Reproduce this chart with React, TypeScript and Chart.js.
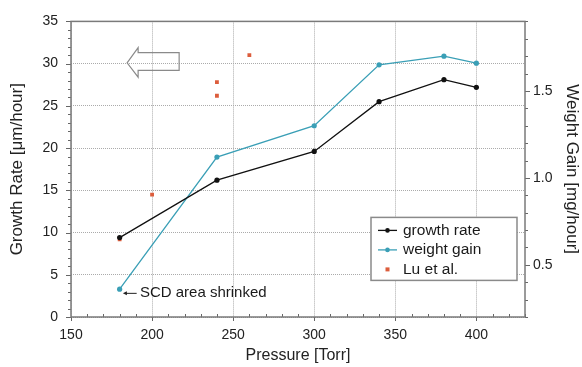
import React, { useEffect, useRef } from 'react';
import { Chart, registerables } from 'chart.js';

Chart.register(...registerables);

// ---- data ----
const growthPressure = [180, 240, 300, 340, 380, 400];
const growthRate = [9.4, 16.2, 19.6, 25.5, 28.1, 27.2];
const weightPressure = [180, 240, 300, 340, 380, 400];
const weightGain = [0.36, 1.12, 1.3, 1.65, 1.7, 1.66];
const luPressure = [180, 200, 240, 240, 260];
const luRate = [9.2, 14.5, 27.8, 26.2, 31.0];

const xTicks = [150, 200, 250, 300, 350, 400];
const yLeftTicks = [0, 5, 10, 15, 20, 25, 30, 35];
const yRightTicks = [0.5, 1.0, 1.5];

const xRange = [150, 430];
const yLeftRange = [0, 35];
const yRightRange = [0.2, 1.9];

const seriesLabels = ['growth rate', 'weight gain', 'Lu et al.'];
const noteText = 'SCD area shrinked';
// hollow arrow outline in data units (pressure, growth rate)
const arrowOutline = [
  [184.6, 30.1], [191.4, 31.9], [191.4, 31.3], [216.7, 31.3],
  [216.7, 29.2], [191.4, 29.2], [191.4, 28.4],
];
// note pointer: from (tail) to (head), and text anchor
const notePointer = [[190.5, 2.8], [182, 2.8]];
const noteAnchor = [192.5, 2.8];

const FONT = "'Liberation Sans', Arial, Helvetica, sans-serif";
const BLACK = '#111111';
const TEAL = '#3a9fb6';
const RED = '#dc5d3c';

const decor = {
  id: 'decor',
  beforeDatasetsDraw(chart: any) {
    const { ctx, chartArea: ca, scales } = chart;
    const x = scales.x, y = scales.y, y2 = scales.y2;
    ctx.save();
    ctx.strokeStyle = '#666';
    ctx.lineWidth = 1;
    // x ticks
    for (let v = xRange[0]; v <= xRange[1]; v += 10) {
      const px = Math.round(x.getPixelForValue(v)) + 0.5;
      const major = v % 50 === 0;
      ctx.beginPath();
      ctx.moveTo(px, ca.bottom);
      ctx.lineTo(px, major ? ca.bottom + 4 : ca.bottom - 3);
      ctx.stroke();
    }
    // left y ticks
    for (let v = yLeftRange[0]; v <= yLeftRange[1]; v += 1) {
      const py = Math.round(y.getPixelForValue(v)) + 0.5;
      const major = v % 5 === 0;
      ctx.beginPath();
      ctx.moveTo(ca.left, py);
      ctx.lineTo(ca.left - (major ? 5 : 3), py);
      ctx.stroke();
    }
    // right y ticks
    for (let i = 2; i <= 19; i++) {
      const v = i / 10;
      const py = Math.round(y2.getPixelForValue(v)) + 0.5;
      const major = i % 5 === 0;
      ctx.beginPath();
      ctx.moveTo(ca.right, py);
      ctx.lineTo(ca.right + (major ? 5 : 3), py);
      ctx.stroke();
    }
    // frame
    ctx.strokeStyle = '#7a7a7a';
    ctx.lineWidth = 1.5;
    ctx.strokeRect(ca.left, ca.top, ca.right - ca.left, ca.bottom - ca.top);
    // hollow arrow
    ctx.strokeStyle = '#8a8a8a';
    ctx.lineWidth = 1.2;
    ctx.beginPath();
    arrowOutline.forEach(([vx, vy], i) => {
      const px = x.getPixelForValue(vx), py = y.getPixelForValue(vy);
      if (i === 0) ctx.moveTo(px, py); else ctx.lineTo(px, py);
    });
    ctx.closePath();
    ctx.stroke();
    ctx.restore();
  },
  afterDraw(chart: any) {
    const { ctx, chartArea: ca, scales, data } = chart;
    const x = scales.x, y = scales.y;
    ctx.save();
    // note pointer
    const tx = x.getPixelForValue(notePointer[0][0]);
    const ty = y.getPixelForValue(notePointer[0][1]);
    const hx = x.getPixelForValue(notePointer[1][0]);
    const hy = y.getPixelForValue(notePointer[1][1]);
    ctx.strokeStyle = '#222';
    ctx.fillStyle = '#222';
    ctx.lineWidth = 1;
    ctx.beginPath();
    ctx.moveTo(tx, ty);
    ctx.lineTo(hx + 2, hy);
    ctx.stroke();
    ctx.beginPath();
    ctx.moveTo(hx, hy);
    ctx.lineTo(hx + 4, hy - 2);
    ctx.lineTo(hx + 4, hy + 2);
    ctx.closePath();
    ctx.fill();
    ctx.font = `15px ${FONT}`;
    ctx.textBaseline = 'middle';
    ctx.textAlign = 'left';
    ctx.fillStyle = '#1a1a1a';
    ctx.fillText(noteText, x.getPixelForValue(noteAnchor[0]), y.getPixelForValue(noteAnchor[1]));

    // legend box
    const bx = ca.right - 154, by = ca.top + 196, bw = 146, bh = 63;
    ctx.fillStyle = '#ffffff';
    ctx.fillRect(bx, by, bw, bh);
    ctx.strokeStyle = '#8a8a8a';
    ctx.lineWidth = 1.5;
    ctx.strokeRect(bx, by, bw, bh);
    ctx.font = `15.5px ${FONT}`;
    data.datasets.forEach((ds: any, i: number) => {
      const ry = by + 13 + i * 19.5;
      const lx0 = bx + 7, lx1 = bx + 26, mx = (lx0 + lx1) / 2;
      if (ds.showLine !== false) {
        ctx.strokeStyle = ds.borderColor;
        ctx.lineWidth = 1.3;
        ctx.beginPath();
        ctx.moveTo(lx0, ry);
        ctx.lineTo(lx1, ry);
        ctx.stroke();
      }
      ctx.fillStyle = ds.pointBackgroundColor;
      if (ds.pointStyle === 'rect') ctx.fillRect(mx - 2, ry - 2, 4, 4);
      else { ctx.beginPath(); ctx.arc(mx, ry, 2.3, 0, Math.PI * 2); ctx.fill(); }
      ctx.fillStyle = '#1a1a1a';
      ctx.textAlign = 'left';
      ctx.textBaseline = 'middle';
      ctx.fillText(ds.label, bx + 32, ry);
    });
    ctx.restore();
  },
};

export default function App() {
  const ref = useRef<HTMLCanvasElement | null>(null);
  useEffect(() => {
    document.body.style.margin = '0';
    const canvas = ref.current!;
    const chart = new Chart(canvas, {
      type: 'scatter',
      data: {
        datasets: [
          {
            label: seriesLabels[0],
            data: growthPressure.map((p, i) => ({ x: p, y: growthRate[i] })),
            showLine: true,
            borderColor: BLACK,
            backgroundColor: BLACK,
            pointBackgroundColor: BLACK,
            pointBorderWidth: 0,
            pointRadius: 2.6,
            borderWidth: 1.3,
            yAxisID: 'y',
          },
          {
            label: seriesLabels[1],
            data: weightPressure.map((p, i) => ({ x: p, y: weightGain[i] })),
            showLine: true,
            borderColor: TEAL,
            backgroundColor: TEAL,
            pointBackgroundColor: TEAL,
            pointBorderWidth: 0,
            pointRadius: 2.6,
            borderWidth: 1.3,
            yAxisID: 'y2',
          },
          {
            label: seriesLabels[2],
            data: luPressure.map((p, i) => ({ x: p, y: luRate[i] })),
            showLine: false,
            borderColor: RED,
            backgroundColor: RED,
            pointBackgroundColor: RED,
            pointStyle: 'rect',
            pointBorderWidth: 0,
            pointRadius: 2.7,
            yAxisID: 'y',
          },
        ],
      },
      options: {
        responsive: false,
        animation: false,
        devicePixelRatio: 1,
        layout: { padding: { top: 15, left: 0, right: 0, bottom: 0 } },
        plugins: { legend: { display: false }, tooltip: { enabled: false } },
        scales: {
          x: {
            type: 'linear',
            min: xRange[0],
            max: xRange[1],
            afterBuildTicks: (s: any) => { s.ticks = xTicks.map((v) => ({ value: v })); },
            afterFit: (s: any) => { s.height = 50; },
            grid: { color: '#ababab', lineWidth: 1, drawTicks: false },
            border: { display: false, dash: [1, 1] },
            ticks: { color: '#222', padding: 9.5, font: { family: FONT, size: 14 } },
            title: {
              display: true,
              text: 'Pressure [Torr]',
              color: '#222',
              font: { family: FONT, size: 16 },
              padding: { top: 0, bottom: 2 },
            },
          },
          y: {
            type: 'linear',
            position: 'left',
            min: yLeftRange[0],
            max: yLeftRange[1],
            afterBuildTicks: (s: any) => { s.ticks = yLeftTicks.map((v) => ({ value: v })); },
            afterFit: (s: any) => { s.width = 71; },
            grid: { color: '#ababab', lineWidth: 1, drawTicks: false },
            border: { display: false, dash: [1, 1] },
            ticks: { color: '#222', padding: 13, font: { family: FONT, size: 14 } },
            title: {
              display: true,
              text: 'Growth Rate [μm/hour]',
              color: '#222',
              font: { family: FONT, size: 17 },
              padding: { top: 7, bottom: 0 },
            },
          },
          y2: {
            type: 'linear',
            position: 'right',
            min: yRightRange[0],
            max: yRightRange[1],
            afterBuildTicks: (s: any) => { s.ticks = yRightTicks.map((v) => ({ value: v })); },
            afterFit: (s: any) => { s.width = 57; },
            grid: { display: false, drawTicks: false },
            border: { display: false },
            ticks: {
              color: '#222',
              padding: 8,
              font: { family: FONT, size: 14 },
              callback: (v: any) => Number(v).toFixed(1),
            },
            title: {
              display: true,
              text: 'Weight Gain [mg/hour]',
              color: '#222',
              font: { family: FONT, size: 17 },
              padding: { top: 0, bottom: 0 },
            },
          },
        },
      },
      plugins: [decor],
    } as any);
    return () => chart.destroy();
  }, []);
  return (
    <div style={{ width: 582, height: 367 }}>
      <canvas ref={ref} width={582} height={367} style={{ display: 'block' }} />
    </div>
  );
}
